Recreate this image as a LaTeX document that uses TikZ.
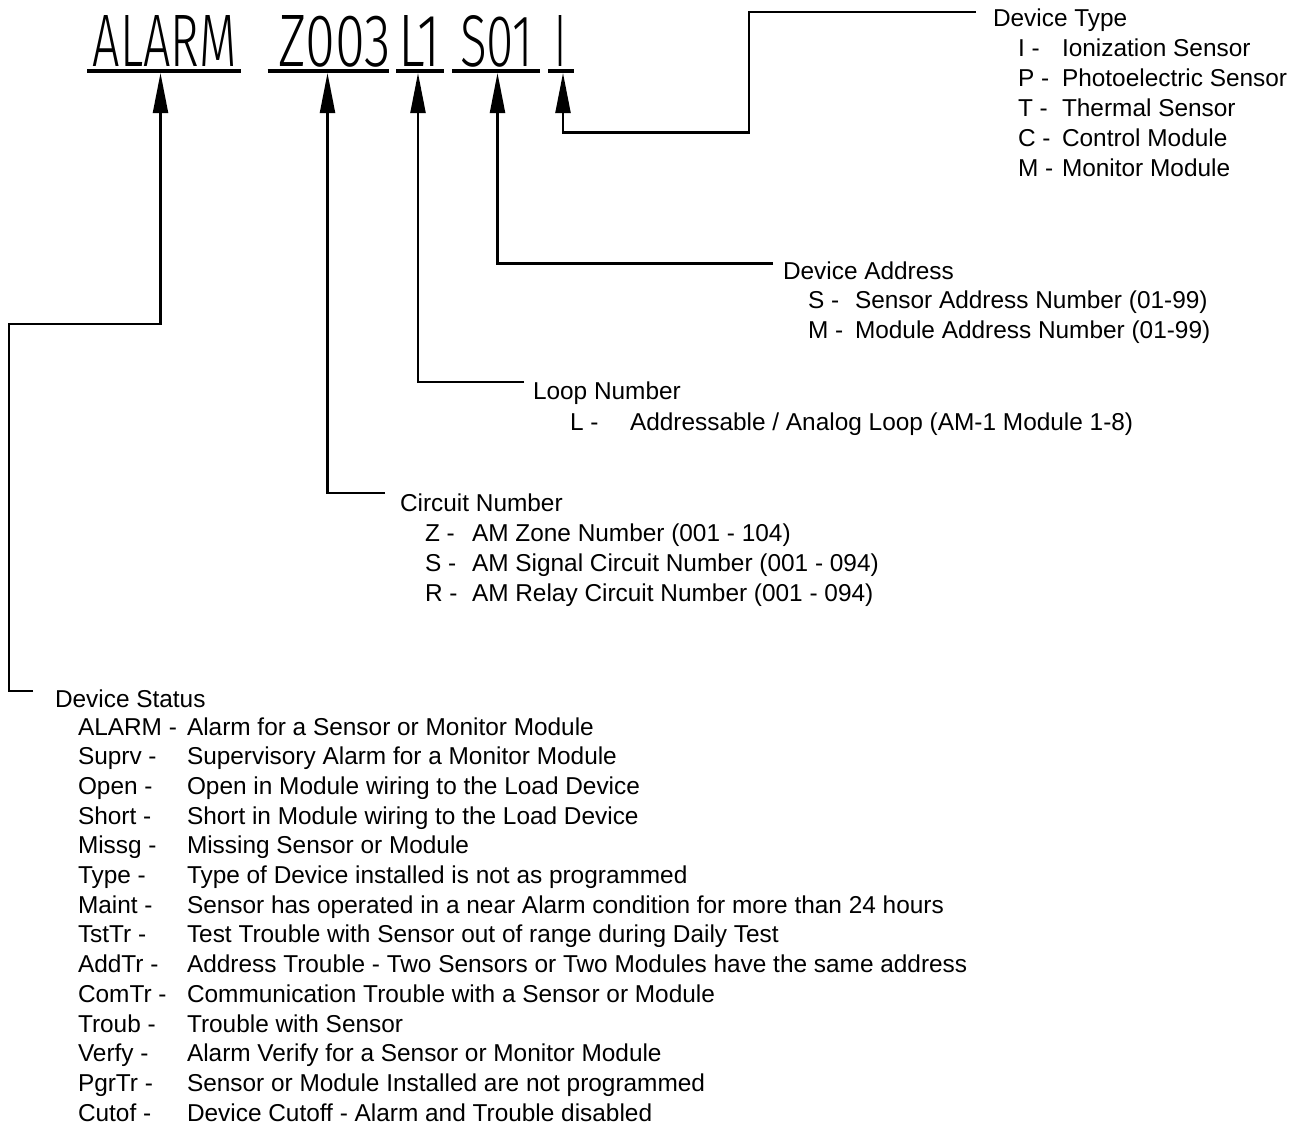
\documentclass[tikz,border=0pt]{standalone}
\usepackage{fontspec}
\setmainfont{Liberation Sans}
\newfontfamily\hdrfont{Fira Sans Light}
\usetikzlibrary{arrows.meta}

\tikzset{
  txt/.style={anchor=base west, inner sep=0pt, outer sep=0pt, font=\fontsize{24.4}{29}\selectfont},
  hdr/.style={anchor=base west, inner sep=0pt, outer sep=0pt, font=\hdrfont\fontsize{74}{80}\selectfont},
  uline/.style={line width=4pt},
  conn/.style={line width=2.2pt, line join=miter, -{Triangle[length=40pt,width=15pt]}},
}

\begin{document}
\begin{tikzpicture}[x=1pt,y=-1pt]
\useasboundingbox (0,0) rectangle (1305,1127);

% coded status string
\node[hdr] (hAlarm) at (92.6,66) {\resizebox{144pt}{51pt}{ALARM}};
\node[hdr] (hZone)  at (278,66)  {\resizebox{113pt}{51pt}{Z003}};
\node[hdr] (hLoop)  at (398,66)  {\resizebox{43pt}{51pt}{L1}};
\node[hdr] (hAddr)  at (460,66)  {\resizebox{73pt}{51pt}{S01}};
\node[hdr] (hType)  at (554,66)  {\resizebox{12pt}{51pt}{I}};

% underlines of the fields
\draw[uline] (87,71) -- (241,71);
\draw[uline] (267.5,71) -- (388.6,71);
\draw[uline] (396,71) -- (444,71);
\draw[uline] (452,71) -- (540,71);
\draw[uline] (548,71) -- (574,71);

% arrow tips below the fields
\coordinate (aTip) at (160.5,73);
\coordinate (zTip) at (327.5,73);
\coordinate (lTip) at (418,73);
\coordinate (sTip) at (497.5,73);
\coordinate (iTip) at (563,73);

% free ends next to the legends
\coordinate (stEnd) at (33,691);
\coordinate (cnEnd) at (385,493);
\coordinate (lnEnd) at (524,382);
\coordinate (daEnd) at (773,263.5);
\coordinate (dtEnd) at (976,12);

% leader lines
\draw[conn] (stEnd) -| (9,324) -| (aTip);
\draw[conn] (cnEnd) -| (zTip);
\draw[conn] (lnEnd) -| (lTip);
\draw[conn] (daEnd) -| (sTip);
\draw[conn] (dtEnd) -| (749,132.5) -| (iTip);

% Device Type legend
\node[txt] (dtTitle) at (993,27) {Device Type};
\foreach \c/\d [count=\i] in {{I -}/{Ionization Sensor},{P -}/{Photoelectric Sensor},{T -}/{Thermal Sensor},{C -}/{Control Module},{M -}/{Monitor Module}}{
  \node[txt] (dtc\i) at (1018,26+30*\i) {\c};
  \node[txt] (dtd\i) at (1062,26+30*\i) {\d};
}

% Device Address legend
\node[txt] (daTitle) at (783,279) {Device Address};
\foreach \c/\d [count=\i] in {{S -}/{Sensor Address Number (01-99)},{M -}/{Module Address Number (01-99)}}{
  \node[txt] (dac\i) at (808,278+30*\i) {\c};
  \node[txt] (dad\i) at (855,278+30*\i) {\d};
}

% Loop Number legend
\node[txt] (lnTitle) at (533,399) {Loop Number};
\node[txt] (lnc1) at (570,430) {L -};
\node[txt] (lnd1) at (630,430) {Addressable / Analog Loop (AM-1 Module 1-8)};

% Circuit Number legend
\node[txt] (cnTitle) at (400,511) {Circuit Number};
\foreach \c/\d [count=\i] in {{Z -}/{AM Zone Number (001 - 104)},{S -}/{AM Signal Circuit Number (001 - 094)},{R -}/{AM Relay Circuit Number (001 - 094)}}{
  \node[txt] (cnc\i) at (425,511+30*\i) {\c};
  \node[txt] (cnd\i) at (472,511+30*\i) {\d};
}

% Device Status legend
\node[txt] (stTitle) at (55,707) {Device Status};
\foreach \c/\d [count=\i] in {
  {ALARM -}/{Alarm for a Sensor or Monitor Module},
  {Suprv -}/{Supervisory Alarm for a Monitor Module},
  {Open -}/{Open in Module wiring to the Load Device},
  {Short -}/{Short in Module wiring to the Load Device},
  {Missg -}/{Missing Sensor or Module},
  {Type -}/{Type of Device installed is not as programmed},
  {Maint -}/{Sensor has operated in a near Alarm condition for more than 24 hours},
  {TstTr -}/{Test Trouble with Sensor out of range during Daily Test},
  {AddTr -}/{Address Trouble - Two Sensors or Two Modules have the same address},
  {ComTr -}/{Communication Trouble with a Sensor or Module},
  {Troub -}/{Trouble with Sensor},
  {Verfy -}/{Alarm Verify for a Sensor or Monitor Module},
  {PgrTr -}/{Sensor or Module Installed are not programmed},
  {Cutof -}/{Device Cutoff - Alarm and Trouble disabled}}{
  \node[txt] (stc\i) at (78,705.3+29.7*\i) {\c};
  \node[txt] (std\i) at (187,705.3+29.7*\i) {\d};
}
\end{tikzpicture}
\end{document}
